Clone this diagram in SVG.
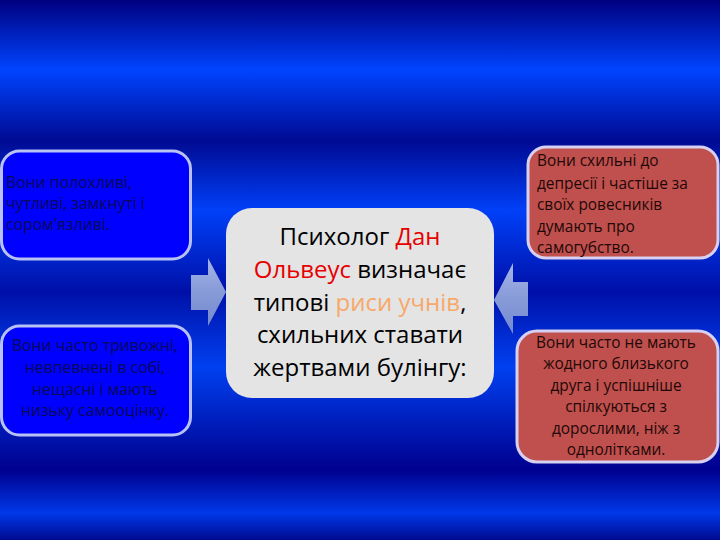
<svg xmlns="http://www.w3.org/2000/svg" width="720" height="540" viewBox="0 0 720 540">
<defs>
<linearGradient id="bg" x1="0" y1="0" x2="0" y2="1">
<stop offset="0" stop-color="#000080"/>
<stop offset="0.13" stop-color="#0044ff"/>
<stop offset="0.26" stop-color="#000a92"/>
<stop offset="0.39" stop-color="#0040f8"/>
<stop offset="0.54" stop-color="#0010a8"/>
<stop offset="0.68" stop-color="#0040f0"/>
<stop offset="0.87" stop-color="#00008e"/>
<stop offset="0.95" stop-color="#0038e8"/>
<stop offset="1" stop-color="#000a90"/>
</linearGradient>
<linearGradient id="arr" x1="0" y1="0" x2="0" y2="1">
<stop offset="0" stop-color="#b4c2ec"/>
<stop offset="0.5" stop-color="#93a6dc"/>
<stop offset="1" stop-color="#7f93d0"/>
</linearGradient>
<style>
.blue{fill:#0000ff;stroke:#b8c0f4;stroke-width:3}
.red{fill:#c0504d;stroke:#d8d0f0;stroke-width:3}
.center{fill:#e4e4e4}
.tl{font-family:"Open Sans","Noto Sans",sans-serif;font-size:15.8px;fill:#0a0a58}
.tr{font-family:"Open Sans","Noto Sans",sans-serif;font-size:15.4px;fill:#1e0808}
.tc{font-family:"Open Sans","Noto Sans",sans-serif;font-size:24px;fill:#000}
.arrow{fill:url(#arr);opacity:0.92}
</style>
</defs>
<rect width="720" height="540" fill="url(#bg)"/>
<g id="connectors">
<path class="arrow" d="M191,275 H208 V258 L226,292 L208,326 V310 H191 Z"/>
<path class="arrow" d="M528,282 H513 V263 L494,300 L513,334 V316 H528 Z"/>
</g>
<g id="node-left-top">
<rect class="blue" x="1.5" y="151" width="189" height="108" rx="18"/>
<text class="tl" x="6"><tspan x="6" y="188">Вони полохливі,</tspan><tspan x="6" y="209">чутливі, замкнуті і</tspan><tspan x="6" y="230">сором'язливі.</tspan></text>
</g>
<g id="node-left-bottom">
<rect class="blue" x="1.5" y="326" width="189" height="109" rx="18"/>
<text class="tl" text-anchor="middle"><tspan x="95" y="351">Вони часто тривожні,</tspan><tspan x="95" y="373">невпевнені в собі,</tspan><tspan x="95" y="395">нещасні і мають</tspan><tspan x="95" y="416">низьку самооцінку.</tspan></text>
</g>
<g id="node-center">
<rect class="center" x="226" y="208" width="268" height="190" rx="26"/>
<text class="tc" text-anchor="middle"><tspan x="360" y="245">Психолог <tspan fill="#e60000">Дан</tspan></tspan><tspan x="360" y="278"><tspan fill="#e60000">Ольвеус</tspan> визначає</tspan><tspan x="360" y="311">типові <tspan fill="#f7a86a">риси учнів</tspan>,</tspan><tspan x="360" y="343">схильних ставати</tspan><tspan x="360" y="376">жертвами булінгу:</tspan></text>
</g>
<g id="node-right-top">
<rect class="red" x="528" y="147" width="190" height="111" rx="18"/>
<text class="tr"><tspan x="537" y="166">Вони схильні до</tspan><tspan x="537" y="189">депресії і частіше за</tspan><tspan x="537" y="210">своїх ровесників</tspan><tspan x="537" y="232">думають про</tspan><tspan x="537" y="253">самогубство.</tspan></text>
</g>
<g id="node-right-bottom">
<rect class="red" x="517" y="331" width="201" height="131" rx="20"/>
<text class="tr" text-anchor="middle"><tspan x="616" y="348">Вони часто не мають</tspan><tspan x="616" y="369">жодного близького</tspan><tspan x="616" y="391">друга і успішніше</tspan><tspan x="616" y="412">спілкуються з</tspan><tspan x="616" y="434">дорослими, ніж з</tspan><tspan x="616" y="455">однолітками.</tspan></text>
</g>
</svg>
